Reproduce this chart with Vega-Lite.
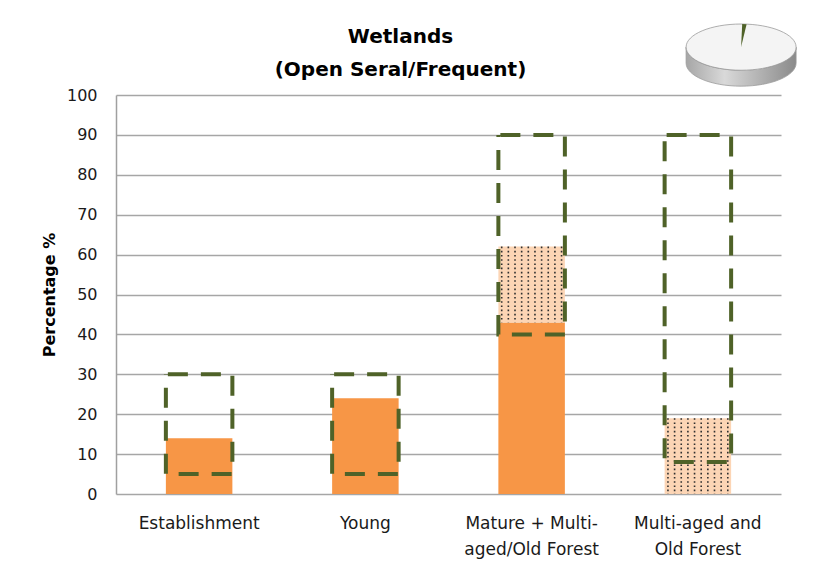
{
  "$schema": "https://vega.github.io/schema/vega-lite/v6.json",
  "width": 665,
  "height": 399,
  "autosize": {"type": "none"},
  "padding": {"left": 116, "top": 95, "right": 50, "bottom": 75},
  "background": "white",
  "config": {
    "view": {"stroke": null},
    "axisX": {
      "title": null,
      "domain": false,
      "ticks": false,
      "grid": false,
      "labelAngle": 0,
      "labelFont": "DejaVu Sans",
      "labelFontSize": 17,
      "labelColor": "#1a1a1a",
      "labelPadding": 21,
      "labelLineHeight": 26
    },
    "axisY": {
      "titleFont": "DejaVu Sans",
      "titleFontSize": 16,
      "titleFontWeight": "bold",
      "titleColor": "#000000",
      "titlePadding": 9,
      "labelOverlap": false,
      "labelFont": "DejaVu Sans",
      "labelFontSize": 16,
      "labelColor": "#1a1a1a",
      "labelPadding": 19,
      "ticks": false,
      "domain": true,
      "domainColor": "#a0a0a0",
      "domainWidth": 1.5,
      "grid": true,
      "gridColor": "#a6a6a6",
      "gridWidth": 1.5
    }
  },
  "title": {
    "text": ["Wetlands", "(Open Seral/Frequent)"],
    "font": "DejaVu Sans",
    "fontSize": 20,
    "fontWeight": "bold",
    "lineHeight": 33,
    "color": "#000000",
    "anchor": "middle",
    "frame": "group",
    "dx": -48,
    "offset": -58
  },
  "datasets": {
    "bars": [
      {"stage": "Establishment", "type": "Current", "low": 0, "high": 14},
      {"stage": "Young", "type": "Current", "low": 0, "high": 24},
      {"stage": "Mature + Multi-aged/Old Forest", "type": "Current", "low": 0, "high": 43},
      {"stage": "Mature + Multi-aged/Old Forest", "type": "Future", "low": 43, "high": 62},
      {"stage": "Multi-aged and Old Forest", "type": "Future", "low": 0, "high": 19}
    ],
    "ranges": [
      {"stage": "Establishment", "min": 5, "max": 30},
      {"stage": "Young", "min": 5, "max": 30},
      {"stage": "Mature + Multi-aged/Old Forest", "min": 40, "max": 90},
      {"stage": "Multi-aged and Old Forest", "min": 8, "max": 90}
    ],
    "pie": [{"item": "Wetlands share"}]
  },
  "layer": [
    {
      "data": {"name": "bars"},
      "mark": {"type": "bar", "cornerRadius": 0},
      "encoding": {
        "x": {
          "field": "stage",
          "type": "nominal",
          "scale": {
            "domain": ["Establishment", "Young", "Mature + Multi-aged/Old Forest", "Multi-aged and Old Forest"],
            "paddingInner": 0.6,
            "paddingOuter": 0.3
          },
          "axis": {
            "labelExpr": "datum.value == 'Mature + Multi-aged/Old Forest' ? ['Mature + Multi-', 'aged/Old Forest'] : datum.value == 'Multi-aged and Old Forest' ? ['Multi-aged and', 'Old Forest'] : datum.value"
          }
        },
        "y": {
          "field": "low",
          "type": "quantitative",
          "scale": {"domain": [0, 100], "nice": false},
          "axis": {"title": "Percentage %", "values": [0, 10, 20, 30, 40, 50, 60, 70, 80, 90, 100], "tickCount": 11}
        },
        "y2": {"field": "high"},
        "color": {
          "field": "type",
          "type": "nominal",
          "scale": {"domain": ["Current", "Future"], "range": ["#F79646", "#FCD5B5"]},
          "legend": null
        }
      }
    },
    {
      "data": {"name": "bars"},
      "transform": [{"filter": "datum.type == 'Future'"}],
      "layer": [
        {"mark": {"type": "rule", "strokeDash": [1.6, 2.6], "strokeWidth": 1.6, "color": "#2f2f2f", "strokeCap": "butt"}, "encoding": {"x": {"field": "stage", "type": "nominal", "bandPosition": 0.05}}},
        {"mark": {"type": "rule", "strokeDash": [1.6, 2.6], "strokeWidth": 1.6, "color": "#2f2f2f", "strokeCap": "butt"}, "encoding": {"x": {"field": "stage", "type": "nominal", "bandPosition": 0.15}}},
        {"mark": {"type": "rule", "strokeDash": [1.6, 2.6], "strokeWidth": 1.6, "color": "#2f2f2f", "strokeCap": "butt"}, "encoding": {"x": {"field": "stage", "type": "nominal", "bandPosition": 0.25}}},
        {"mark": {"type": "rule", "strokeDash": [1.6, 2.6], "strokeWidth": 1.6, "color": "#2f2f2f", "strokeCap": "butt"}, "encoding": {"x": {"field": "stage", "type": "nominal", "bandPosition": 0.35}}},
        {"mark": {"type": "rule", "strokeDash": [1.6, 2.6], "strokeWidth": 1.6, "color": "#2f2f2f", "strokeCap": "butt"}, "encoding": {"x": {"field": "stage", "type": "nominal", "bandPosition": 0.45}}},
        {"mark": {"type": "rule", "strokeDash": [1.6, 2.6], "strokeWidth": 1.6, "color": "#2f2f2f", "strokeCap": "butt"}, "encoding": {"x": {"field": "stage", "type": "nominal", "bandPosition": 0.55}}},
        {"mark": {"type": "rule", "strokeDash": [1.6, 2.6], "strokeWidth": 1.6, "color": "#2f2f2f", "strokeCap": "butt"}, "encoding": {"x": {"field": "stage", "type": "nominal", "bandPosition": 0.65}}},
        {"mark": {"type": "rule", "strokeDash": [1.6, 2.6], "strokeWidth": 1.6, "color": "#2f2f2f", "strokeCap": "butt"}, "encoding": {"x": {"field": "stage", "type": "nominal", "bandPosition": 0.75}}},
        {"mark": {"type": "rule", "strokeDash": [1.6, 2.6], "strokeWidth": 1.6, "color": "#2f2f2f", "strokeCap": "butt"}, "encoding": {"x": {"field": "stage", "type": "nominal", "bandPosition": 0.85}}},
        {"mark": {"type": "rule", "strokeDash": [1.6, 2.6], "strokeWidth": 1.6, "color": "#2f2f2f", "strokeCap": "butt"}, "encoding": {"x": {"field": "stage", "type": "nominal", "bandPosition": 0.95}}}
      ],
      "encoding": {
        "y": {"field": "high", "type": "quantitative", "axis": {"title": "Percentage %", "values": [0, 10, 20, 30, 40, 50, 60, 70, 80, 90, 100], "tickCount": 11}},
        "y2": {"field": "low"}
      }
    },
    {
      "data": {"name": "ranges"},
      "mark": {
        "type": "bar",
        "filled": false,
        "stroke": "#4F6228",
        "strokeWidth": 4,
        "strokeDash": [20, 13],
        "strokeDashOffset": -2,
        "cornerRadius": 0
      },
      "encoding": {
        "x": {"field": "stage", "type": "nominal"},
        "y": {"field": "min", "type": "quantitative", "axis": {"title": "Percentage %", "values": [0, 10, 20, 30, 40, 50, 60, 70, 80, 90, 100], "tickCount": 11}},
        "y2": {"field": "max"}
      }
    },
    {
      "data": {"name": "pie"},
      "mark": {
        "type": "point",
        "shape": "M -1 0 C -1 0.232 -0.552 0.42 0 0.42 C 0.552 0.42 1 0.232 1 0 L 1 0.29 C 1 0.522 0.552 0.71 0 0.71 C -0.552 0.71 -1 0.522 -1 0.29 Z",
        "size": 12100,
        "filled": true,
        "opacity": 1,
        "fill": {
          "gradient": "linear",
          "x1": 0, "y1": 0, "x2": 1, "y2": 0,
          "stops": [
            {"offset": 0, "color": "#a6a6a6"},
            {"offset": 0.35, "color": "#d9d9d9"},
            {"offset": 1, "color": "#8a8a8a"}
          ]
        },
        "stroke": "#9a9a9a",
        "strokeWidth": 0.8
      },
      "encoding": {
        "x": {"datum": "Multi-aged and Old Forest", "bandPosition": 1.15},
        "y": {"datum": 112, "axis": {"title": "Percentage %", "values": [0, 10, 20, 30, 40, 50, 60, 70, 80, 90, 100], "tickCount": 11}}
      }
    },
    {
      "data": {"name": "pie"},
      "mark": {
        "type": "point",
        "shape": "M -1 0 C -1 -0.232 -0.552 -0.42 0 -0.42 C 0.552 -0.42 1 -0.232 1 0 C 1 0.232 0.552 0.42 0 0.42 C -0.552 0.42 -1 0.232 -1 0 Z",
        "size": 12100,
        "filled": true,
        "opacity": 1,
        "fill": "#f4f4f4",
        "stroke": "#9a9a9a",
        "strokeWidth": 0.8
      },
      "encoding": {
        "x": {"datum": "Multi-aged and Old Forest", "bandPosition": 1.15},
        "y": {"datum": 112, "axis": {"title": "Percentage %", "values": [0, 10, 20, 30, 40, 50, 60, 70, 80, 90, 100], "tickCount": 11}}
      }
    },
    {
      "data": {"name": "pie"},
      "mark": {
        "type": "point",
        "shape": "M 0 0 L 0.02 -0.42 L 0.1 -0.414 Z",
        "size": 12100,
        "filled": true,
        "opacity": 1,
        "fill": "#4F6228",
        "strokeWidth": 0
      },
      "encoding": {
        "x": {"datum": "Multi-aged and Old Forest", "bandPosition": 1.15},
        "y": {"datum": 112, "axis": {"title": "Percentage %", "values": [0, 10, 20, 30, 40, 50, 60, 70, 80, 90, 100], "tickCount": 11}}
      }
    }
  ]
}
